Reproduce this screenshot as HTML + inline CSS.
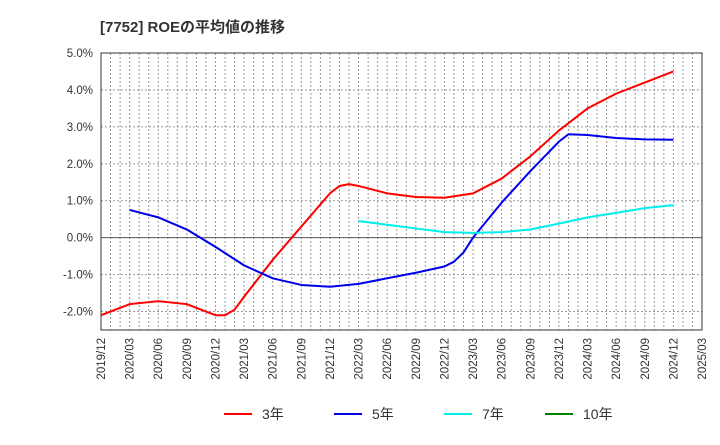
<!DOCTYPE html>
<html><head><meta charset="utf-8"><style>
body{margin:0;background:#fff;font-family:"Liberation Sans","Noto Sans CJK JP",sans-serif;}
</style></head><body>
<svg width="720" height="440" xmlns="http://www.w3.org/2000/svg" font-family="Liberation Sans, Noto Sans CJK JP, sans-serif">
<text x="100" y="32" font-size="15" font-weight="bold" fill="#333">[7752]  ROEの平均値の推移</text>
<g id="grid"></g><g id="axes"></g><g id="series"></g><g id="legend"></g>
</svg>
<script>
const xLabels=["2019/12","2020/03","2020/06","2020/09","2020/12","2021/03","2021/06","2021/09","2021/12","2022/03","2022/06","2022/09","2022/12","2023/03","2023/06","2023/09","2023/12","2024/03","2024/06","2024/09","2024/12","2025/03"];
const yTicks=[5,4,3,2,1,0,-1,-2];
const s3Dates=["2019/12","2020/03","2020/06","2020/09","2020/12","2021/01","2021/02","2021/03","2021/06","2021/09","2021/12","2022/01","2022/02","2022/03","2022/06","2022/09","2022/12","2023/03","2023/06","2023/09","2023/12","2024/03","2024/06","2024/09","2024/12"];
const s3Vals=[-2.1,-1.8,-1.72,-1.8,-2.1,-2.1,-1.95,-1.6,-0.6,0.3,1.2,1.4,1.45,1.4,1.2,1.1,1.08,1.2,1.6,2.2,2.9,3.5,3.9,4.2,4.5];
const s5Dates=["2020/03","2020/06","2020/09","2020/12","2021/03","2021/06","2021/09","2021/12","2022/03","2022/06","2022/09","2022/12","2023/01","2023/02","2023/03","2023/06","2023/09","2023/12","2024/01","2024/03","2024/06","2024/09","2024/12"];
const s5Vals=[0.75,0.55,0.22,-0.25,-0.75,-1.1,-1.28,-1.33,-1.25,-1.1,-0.95,-0.78,-0.65,-0.4,0.0,0.95,1.8,2.6,2.8,2.78,2.7,2.66,2.65];
const s7Dates=["2022/03","2022/06","2022/09","2022/12","2023/03","2023/06","2023/09","2023/12","2024/03","2024/06","2024/09","2024/12"];
const s7Vals=[0.45,0.35,0.25,0.15,0.13,0.15,0.22,0.38,0.55,0.67,0.8,0.88];
const L=101,R=702,T=53,B=330,yMin=-2.5,yMax=5;
const ns="http://www.w3.org/2000/svg";
function mi(d){const[a,b]=d.split("/").map(Number);return (a-2019)*12+b-12;}
const totalM=mi("2025/03");
function X(d){return L+(R-L)*mi(d)/totalM;}
function Y(v){return T+(B-T)*(yMax-v)/(yMax-yMin);}
function mk(t,a,p){const e=document.createElementNS(ns,t);for(const k in a)e.setAttribute(k,a[k]);p.appendChild(e);return e;}
const grid=document.getElementById("grid"),axes=document.getElementById("axes"),ser=document.getElementById("series"),leg=document.getElementById("legend");
mk("rect",{x:L,y:T,width:R-L,height:B-T,fill:"#fff"},grid);
for(let m=1;m<totalM;m++){const x=L+(R-L)*m/totalM;const l=mk("line",{x1:x,x2:x,y1:T,y2:B,stroke:"#999","stroke-dasharray":"2,2","stroke-width":1},grid);}
yTicks.forEach(v=>{const y=Y(v);const l=mk("line",{x1:L,x2:R,y1:y,y2:y,stroke:v===0?"#555":"#999","stroke-dasharray":v===0?"":"2,2","stroke-width":1},grid);});
const fr=mk("rect",{x:L,y:T,width:R-L,height:B-T,fill:"none",stroke:"#333","stroke-width":1},axes);

yTicks.forEach(v=>{const t=mk("text",{x:L-8,y:Y(v)+4,"font-size":11.5,"text-anchor":"end",fill:"#333"},axes);t.textContent=v.toFixed(1)+"%";});
xLabels.forEach(d=>{const x=X(d)+4,y=B+8;const t=mk("text",{x:x,y:y,"font-size":11.5,"text-anchor":"end",fill:"#333",transform:`rotate(-90 ${x} ${y})`},axes);t.textContent=d;});
function line(ds,vs,c,n){const p=mk("polyline",{points:ds.map((d,i)=>X(d)+","+Y(vs[i])).join(" "),fill:"none",stroke:c,"stroke-width":2,"stroke-linejoin":"round"},ser);}
line(s3Dates,s3Vals,"#ff0000","series-3yr");
line(s5Dates,s5Vals,"#0000ee","series-5yr");
line(s7Dates,s7Vals,"#00eeee","series-7yr");
[["3年","#ff0000",224],["5年","#0000ee",334],["7年","#00eeee",444],["10年","#008000",545]].forEach(([n,c,x])=>{const g=mk("g",{},leg);mk("line",{x1:x,x2:x+28,y1:414,y2:414,stroke:c,"stroke-width":2},g);const t=mk("text",{x:x+38,y:419,"font-size":14,fill:"#333"},g);t.textContent=n;});
</script>
</body></html>
